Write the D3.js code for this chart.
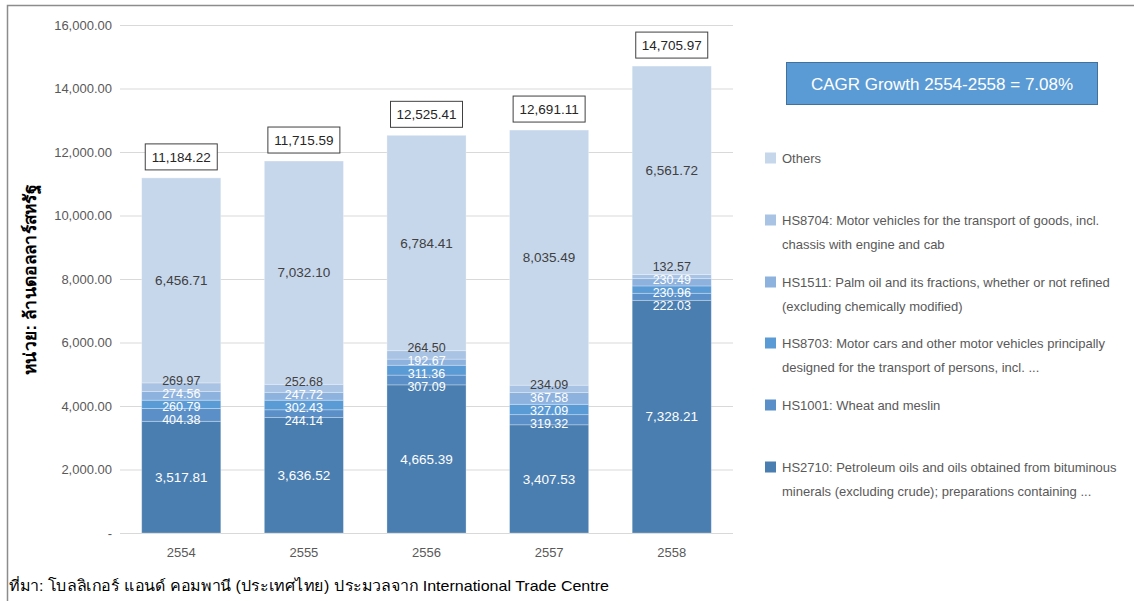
<!DOCTYPE html>
<html><head><meta charset="utf-8">
<script src="https://cdn.jsdelivr.net/npm/d3@7"></script>
<style>
body{margin:0;background:#fff;}
svg{display:block;font-family:"Liberation Sans",Arial,sans-serif;}
</style></head>
<body>
<svg id="chart" width="1134" height="601"></svg>
<script>
const years = ["2554","2555","2556","2557","2558"];
const seriesNames = ["HS2710","HS1001","HS8703","HS1511","HS8704","Others"];
const hs2710 = [3517.81,3636.52,4665.39,3407.53,7328.21];
const hs1001 = [404.38,244.14,307.09,319.32,222.03];
const hs8703 = [260.79,302.43,311.36,327.09,230.96];
const hs1511 = [274.56,247.72,192.67,367.58,230.49];
const hs8704 = [269.97,252.68,264.50,234.09,132.57];
const others = [6456.71,7032.10,6784.41,8035.49,6561.72];
const totals = [11184.22,11715.59,12525.41,12691.11,14705.97];
const yTicks = [0,2000,4000,6000,8000,10000,12000,14000,16000];
const legendLabels = [
  ["Others"],
  ["HS8704: Motor vehicles for the transport of goods, incl.","chassis with engine and cab"],
  ["HS1511: Palm oil and its fractions, whether or not refined","(excluding chemically modified)"],
  ["HS8703: Motor cars and other motor vehicles principally","designed for the transport of persons, incl. ..."],
  ["HS1001: Wheat and meslin"],
  ["HS2710: Petroleum oils and oils obtained from bituminous","minerals (excluding crude); preparations containing ..."]
];
const cagrText = "CAGR Growth 2554-2558 = 7.08%";
const yTitle = "หน่วย: ล้านดอลลาร์สหรัฐ";
const sourceText = "ที่มา: โบลลิเกอร์ แอนด์ คอมพานี (ประเทศไทย) ประมวลจาก International Trade Centre";

const colors = {HS2710:"#4a7eb0",HS1001:"#5a8fc7",HS8703:"#5b9bd5",HS1511:"#8db2de",HS8704:"#a9c3e4",Others:"#c6d7ec"};
const labelColors = {HS2710:"#fff",HS1001:"#fff",HS8703:"#fff",HS1511:"#fff",HS8704:"#404040",Others:"#404040"};

const valuesBySeries = {HS2710:hs2710,HS1001:hs1001,HS8703:hs8703,HS1511:hs1511,HS8704:hs8704,Others:others};
const table = years.map((y,i)=>{const o={year:y};seriesNames.forEach(s=>o[s]=valuesBySeries[s][i]);return o;});

const svg = d3.select("#chart");
// frame
svg.append("path").attr("d","M7.5,601 L7.5,5.5 L1134,5.5").attr("fill","none").attr("stroke","#8c8c8c").attr("stroke-width",1.5);

const x = d3.scaleBand().domain(years).range([120,733]).paddingInner(0.355).paddingOuter(0.177);
const y = d3.scaleLinear().domain([0,16000]).range([533,25]);

// gridlines
svg.append("g").selectAll("line").data(yTicks).join("line")
  .attr("x1",120).attr("x2",733).attr("y1",d=>y(d)+0.5).attr("y2",d=>y(d)+0.5)
  .attr("stroke","#d9d9d9").attr("stroke-width",1);

// y axis labels
const yAxis = d3.axisLeft(y).tickValues(yTicks).tickSize(0).tickPadding(0)
  .tickFormat(d=>d===0?"-":d3.format(",.2f")(d));
const ya = svg.append("g").attr("transform","translate(112,0)").call(yAxis);
ya.select(".domain").remove();
ya.selectAll("text").attr("fill","#595959").attr("font-size","13px").attr("font-family","Liberation Sans, Arial, sans-serif");

// x axis labels
const xAxis = d3.axisBottom(x).tickSize(0).tickPadding(0);
const xa = svg.append("g").attr("transform","translate(0,548)").call(xAxis);
xa.select(".domain").remove();
xa.selectAll("text").attr("fill","#595959").attr("font-size","13px").attr("font-family","Liberation Sans, Arial, sans-serif");

// stacked bars
const stack = d3.stack().keys(seriesNames)(table);
const gBars = svg.append("g");
stack.forEach(layer=>{
  gBars.append("g").selectAll("rect").data(layer).join("rect")
    .attr("x",d=>x(d.data.year)).attr("width",x.bandwidth())
    .attr("y",d=>y(d[1])).attr("height",d=>y(d[0])-y(d[1]))
    .attr("fill",colors[layer.key]).attr("stroke","#ffffff").attr("stroke-opacity",0.35).attr("stroke-width",0.8);
});

// labels with overlap resolution per bar
years.forEach((yr,i)=>{
  let labs = stack.map(layer=>({key:layer.key,val:layer[i].data[layer.key],cy:y((layer[i][0]+layer[i][1])/2)}));
  const small = labs.slice(1,5);
  const gap = 13;
  for(let it=0;it<200;it++){
    for(let k=0;k<small.length-1;k++){
      const a=small[k], b=small[k+1];
      const d = a.cy - b.cy;
      if(d<gap){const m=(gap-d)/2; a.cy+=m; b.cy-=m;}
    }
  }
  labs.forEach((l,li)=>{
    const big = (li===0||li===5);
    svg.append("text").attr("x",x(yr)+x.bandwidth()/2).attr("y",l.cy).attr("dy","0.35em")
      .attr("text-anchor","middle").attr("font-size",big?"13.5px":"12.5px").attr("fill",labelColors[l.key])
      .text(d3.format(",.2f")(l.val));
  });
});

// totals boxes
const tg = svg.append("g").selectAll("g").data(totals).join("g")
  .attr("transform",(d,i)=>`translate(${x(years[i])+x.bandwidth()/2},${y(d)-21})`);
tg.append("rect").attr("x",-36).attr("y",-13).attr("width",72).attr("height",26)
  .attr("fill","#fff").attr("stroke","#404040").attr("stroke-width",1);
tg.append("text").attr("text-anchor","middle").attr("dy","0.35em").attr("font-size","13.5px").attr("fill","#262626")
  .text(d=>d3.format(",.2f")(d));

// CAGR box
svg.append("rect").attr("x",786.5).attr("y",62.5).attr("width",311).attr("height",42)
  .attr("fill","#5b9bd5").attr("stroke","#41719c").attr("stroke-width",1);
svg.append("text").attr("x",942).attr("y",84).attr("dy","0.35em").attr("text-anchor","middle")
  .attr("font-size","17px").attr("fill","#fff").text(cagrText);

// legend
const legendY = [158,220,282,343,405,467];
const legendKeys = ["Others","HS8704","HS1511","HS8703","HS1001","HS2710"];
legendKeys.forEach((k,i)=>{
  svg.append("rect").attr("x",765).attr("y",legendY[i]-5.5).attr("width",11).attr("height",11).attr("fill",colors[k]);
  legendLabels[i].forEach((line,j)=>{
    svg.append("text").attr("x",782).attr("y",legendY[i]+j*24.5).attr("dy","0.35em")
      .attr("font-size","13px").attr("fill","#595959").text(line);
  });
});

// y title
svg.append("text").attr("transform","translate(30,280) rotate(-90)").attr("text-anchor","middle").attr("dy","0.35em")
  .attr("font-size","17px").attr("font-weight","bold").attr("fill","#000")
  .attr("textLength",190).attr("lengthAdjust","spacingAndGlyphs").text(yTitle);

// source
svg.append("text").attr("x",9).attr("y",586).attr("dy","0.35em").attr("font-size","15px").attr("fill","#000")
  .attr("textLength",600).attr("lengthAdjust","spacingAndGlyphs").text(sourceText);
</script>
</body></html>
